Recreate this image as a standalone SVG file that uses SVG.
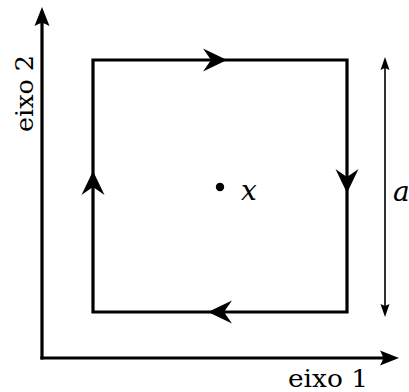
<svg xmlns="http://www.w3.org/2000/svg" xmlns:xlink="http://www.w3.org/1999/xlink" width="409" height="392" viewBox="0 0 409 392">
  <style>
    .thick { fill: none; stroke: #000; stroke-width: 3.2; stroke-linejoin: miter; stroke-linecap: butt; }
    .thin { fill: none; stroke: #000; stroke-width: 1.6; }
    .head { fill: #000; stroke: none; }
    text { font-family: 'DejaVu Serif', 'Liberation Serif', serif; fill: #000; }
    .lbl { font-size: 25px; }
    .math { font-style: italic; font-size: 28px; }
  </style>
  <defs>
    <!-- arrowheads drawn pointing right, tip at origin -->
    <path id="stealth" d="M0,0 L-24,-11.5 Q-18,-3 -16,0 Q-18,3 -24,11.5 Z"/>
    <path id="axishead" d="M0,0 L-19,-7.5 Q-16,-2 -16,0 Q-16,2 -19,7.5 Z"/>
    <path id="dimhead" d="M0,0 L-13,-4.5 L-11,0 L-13,4.5 Z"/>
  </defs>

  <g id="connectors">
    <g id="axis-2">
      <path class="thick" d="M42,359.6 V20"/>
      <use class="head" xlink:href="#axishead" transform="translate(42,7) rotate(-90)"/>
    </g>
    <g id="axis-1">
      <path class="thick" d="M40.4,358 H385"/>
      <use class="head" xlink:href="#axishead" transform="translate(399,358)"/>
    </g>
    <g id="loop">
      <path class="thick" d="M93,60 H347 V312 H93 Z"/>
      <use class="head" xlink:href="#stealth" transform="translate(227,60)"/>
      <use class="head" xlink:href="#stealth" transform="translate(347,193) rotate(90)"/>
      <use class="head" xlink:href="#stealth" transform="translate(208,312) rotate(180)"/>
      <use class="head" xlink:href="#stealth" transform="translate(93,171) rotate(-90)"/>
    </g>
    <g id="dimension-a">
      <path class="thin" d="M385,67 V307"/>
      <use class="head" xlink:href="#dimhead" transform="translate(385,57) rotate(-90)"/>
      <use class="head" xlink:href="#dimhead" transform="translate(385,317) rotate(90)"/>
    </g>
  </g>

  <g id="point-x">
    <circle cx="220" cy="187" r="4.2" fill="#000"/>
    <text class="math" x="241" y="200">x</text>
  </g>
  <g id="label-a">
    <text class="math" x="393" y="201">a</text>
  </g>
  <g id="label-eixo1">
    <text class="lbl" x="288" y="386.5" textLength="80" lengthAdjust="spacingAndGlyphs">eixo 1</text>
  </g>
  <g id="label-eixo2">
    <text class="lbl" transform="translate(33,132) rotate(-90)" textLength="77" lengthAdjust="spacingAndGlyphs">eixo 2</text>
  </g>
</svg>
